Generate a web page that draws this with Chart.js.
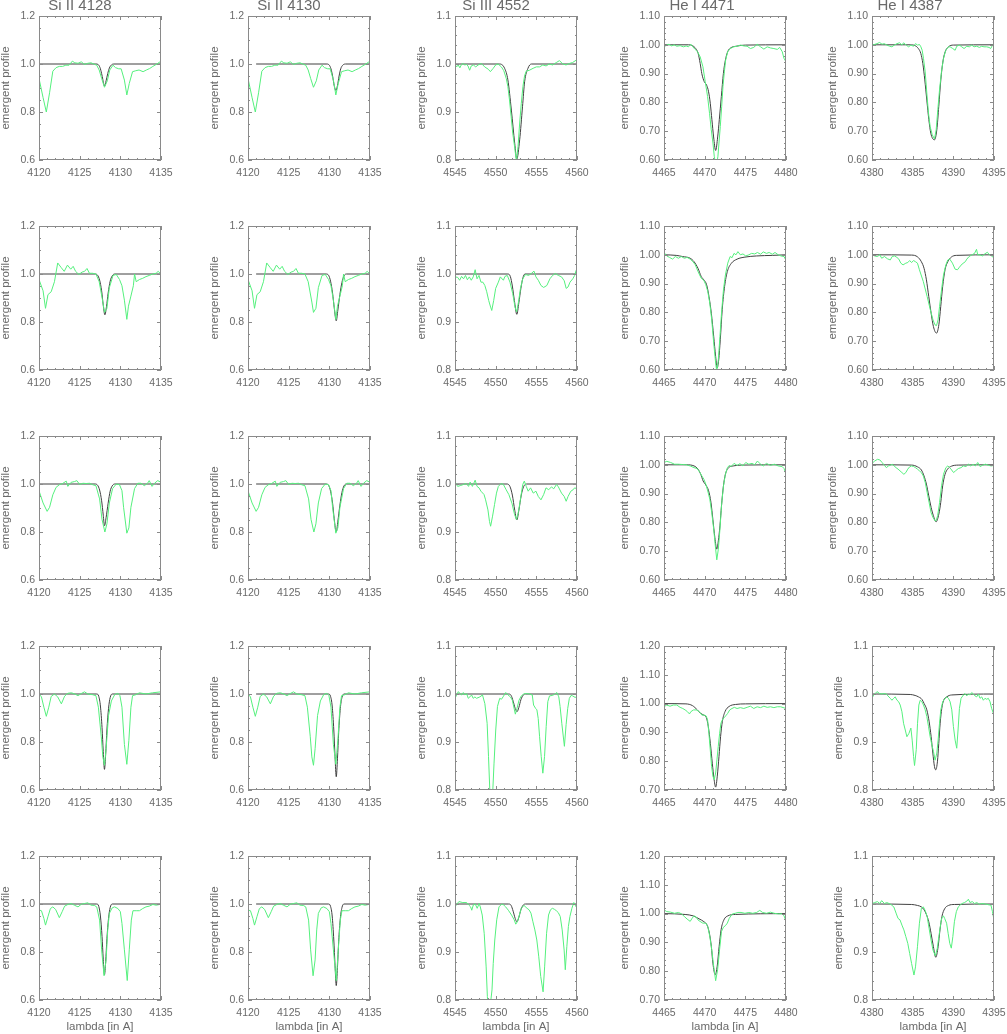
<!DOCTYPE html>
<html>
<head>
<meta charset="utf-8">
<script src="https://cdn.jsdelivr.net/npm/chart.js@4.4.1/dist/chart.umd.min.js"></script>
<style>
  body { margin: 0; background: #fff; }
  #grid { position: relative; width: 1007px; height: 1034px; overflow: hidden; }
  #grid canvas { position: absolute; }
</style>
</head>
<body>
<div id="grid"></div>
<script>
// line titles (top row) and wavelength windows
const lineTitles = ['Si II 4128', 'Si II 4130', 'Si III 4552', 'He I 4471', 'He I 4387'];
const xTicksSi2 = [4120, 4125, 4130, 4135];
const xTicksSi3 = [4545, 4550, 4555, 4560];
const xTicksHe71 = [4465, 4470, 4475, 4480];
const xTicksHe87 = [4380, 4385, 4390, 4395];
const yTicksSi2 = [0.6, 0.8, 1.0, 1.2];
const yTicksShort = [0.8, 0.9, 1.0, 1.1];
const yTicksHeLow = [0.60, 0.70, 0.80, 0.90, 1.00, 1.10];
const yTicksHeHigh = [0.70, 0.80, 0.90, 1.00, 1.10, 1.20];

// observed spectra, Si II window (same for the 4128 and 4130 columns), rows 1..5
const siObs1 = [[4120.0,0.94],[4120.5,0.86],[4120.9,0.80],[4121.3,0.88],[4121.7,0.97],[4122.1,0.985],[4122.5,0.99],[4122.9,0.99],[4123.3,0.995],[4123.7,0.995],[4124.1,1.012],[4124.4,1.005],[4124.8,1.003],[4125.2,1.009],[4125.6,0.998],[4126.0,1.003],[4126.4,1.005],[4126.8,0.999],[4127.1,0.995],[4127.4,0.975],[4127.7,0.94],[4128.05,0.903],[4128.4,0.93],[4128.7,0.975],[4129.1,0.995],[4129.4,0.985],[4129.8,0.98],[4130.1,0.98],[4130.5,0.933],[4130.8,0.871],[4131.1,0.919],[4131.5,0.968],[4131.9,0.972],[4132.3,0.975],[4132.8,0.968],[4133.2,0.975],[4133.6,0.981],[4134.0,0.99],[4134.4,0.998],[4135.0,1.012]];
const siObs2 = [[4120.0,0.977],[4120.5,0.93],[4120.8,0.857],[4121.1,0.914],[4121.5,0.926],[4121.9,0.968],[4122.3,1.046],[4122.7,1.028],[4123.1,1.011],[4123.5,1.037],[4123.9,1.02],[4124.2,1.032],[4124.5,1.011],[4124.9,0.998],[4125.3,1.008],[4125.6,1.011],[4125.9,1.023],[4126.2,1.003],[4126.6,1.003],[4127.0,1.0],[4127.4,0.968],[4127.85,0.883],[4128.05,0.84],[4128.35,0.857],[4128.65,0.943],[4129.1,0.994],[4129.5,0.998],[4129.9,0.977],[4130.2,0.951],[4130.5,0.891],[4130.8,0.811],[4131.0,0.866],[4131.3,0.908],[4131.6,0.951],[4131.75,1.0],[4131.95,0.968],[4132.35,0.977],[4132.75,0.982],[4133.15,0.989],[4133.55,0.994],[4134.0,1.0],[4134.4,1.003],[4134.65,1.011],[4135.0,1.0]];
const siObs3 = [[4120.0,0.972],[4120.5,0.921],[4121.0,0.886],[4121.3,0.903],[4121.7,0.955],[4122.1,0.986],[4122.5,0.997],[4122.9,1.002],[4123.35,1.012],[4123.55,0.99],[4123.95,1.007],[4124.35,1.01],[4124.65,1.014],[4125.0,0.998],[4125.4,1.003],[4125.8,1.002],[4126.2,1.003],[4126.6,0.997],[4127.0,0.993],[4127.45,0.938],[4127.75,0.852],[4128.1,0.80],[4128.35,0.834],[4128.65,0.921],[4129.05,0.981],[4129.5,1.0],[4129.9,0.997],[4130.2,0.972],[4130.4,0.903],[4130.8,0.795],[4131.05,0.817],[4131.3,0.903],[4131.75,0.981],[4132.15,1.003],[4132.55,1.003],[4132.95,0.993],[4133.35,1.003],[4133.55,1.014],[4133.9,0.99],[4134.2,1.003],[4134.6,1.014],[4135.0,1.007]];
const siObs4 = [[4120.0,1.0],[4120.3,0.988],[4120.6,0.945],[4120.9,0.907],[4121.2,0.945],[4121.5,0.99],[4121.9,1.0],[4122.3,0.988],[4122.75,0.959],[4123.15,0.991],[4123.55,1.003],[4124.0,1.005],[4124.4,1.0],[4124.8,0.993],[4125.2,1.002],[4125.6,1.009],[4126.0,1.0],[4126.6,0.997],[4127.0,0.993],[4127.3,0.945],[4127.65,0.824],[4127.85,0.738],[4128.05,0.703],[4128.25,0.772],[4128.55,0.91],[4128.9,0.971],[4129.3,0.997],[4129.7,1.003],[4129.95,0.993],[4130.2,0.945],[4130.5,0.79],[4130.8,0.707],[4131.05,0.807],[4131.3,0.945],[4131.5,0.993],[4131.9,0.997],[4132.35,1.005],[4133.15,1.0],[4133.95,1.005],[4135.0,1.009]];
const siObs5 = [[4120.0,0.975],[4120.3,0.972],[4120.6,0.94],[4120.8,0.912],[4121.1,0.947],[4121.4,0.981],[4121.7,0.988],[4122.05,0.977],[4122.5,0.943],[4122.85,0.968],[4123.15,0.991],[4123.55,0.998],[4123.95,1.002],[4124.35,0.995],[4124.8,0.988],[4125.2,0.999],[4125.6,1.002],[4126.0,1.005],[4126.4,0.995],[4126.8,0.994],[4127.1,0.988],[4127.45,0.933],[4127.7,0.809],[4128.0,0.701],[4128.25,0.767],[4128.45,0.892],[4128.65,0.961],[4129.0,0.984],[4129.3,0.988],[4129.7,0.981],[4130.0,0.968],[4130.2,0.919],[4130.5,0.809],[4130.85,0.681],[4131.1,0.809],[4131.35,0.933],[4131.55,0.972],[4131.95,0.972],[4132.35,0.972],[4132.75,0.981],[4133.15,0.988],[4133.55,0.991],[4134.0,0.998],[4134.4,0.995],[4135.0,0.999]];

// model profiles, Si II 4128
const si4128Mod1 = [[4120,1],[4127.0,1],[4127.3,0.997],[4127.5,0.985],[4127.7,0.96],[4127.85,0.935],[4128.05,0.908],[4128.25,0.93],[4128.45,0.96],[4128.65,0.983],[4128.9,0.996],[4129.2,1],[4135,1]];
const si4128Mod2 = [[4120,1],[4126.9,1],[4127.2,0.995],[4127.45,0.975],[4127.7,0.93],[4127.9,0.87],[4128.1,0.83],[4128.3,0.865],[4128.5,0.92],[4128.75,0.97],[4129.0,0.992],[4129.3,1],[4135,1]];
const si4128Mod3 = [[4120,1],[4126.9,1],[4127.2,0.995],[4127.45,0.975],[4127.7,0.93],[4127.9,0.87],[4128.05,0.826],[4128.25,0.86],[4128.5,0.92],[4128.75,0.97],[4129.0,0.992],[4129.3,1],[4135,1]];
const si4128Mod4 = [[4120,1],[4127.1,1],[4127.35,0.99],[4127.55,0.95],[4127.75,0.86],[4127.9,0.76],[4128.05,0.686],[4128.2,0.75],[4128.35,0.85],[4128.55,0.94],[4128.75,0.985],[4129.0,1],[4135,1]];
const si4128Mod5 = [[4120,1],[4127.1,1],[4127.35,0.99],[4127.55,0.95],[4127.75,0.865],[4127.9,0.77],[4128.05,0.705],[4128.2,0.76],[4128.35,0.855],[4128.55,0.94],[4128.75,0.985],[4129.0,1],[4135,1]];

// model profiles, Si II 4130
const si4130Mod1 = [[4121.0,1],[4129.7,1],[4130.0,0.995],[4130.2,0.98],[4130.4,0.95],[4130.6,0.91],[4130.8,0.89],[4131.0,0.91],[4131.2,0.95],[4131.4,0.98],[4131.65,0.995],[4132.0,1],[4135,1]];
const si4130Mod2 = [[4121.0,1],[4129.6,1],[4129.9,0.995],[4130.15,0.97],[4130.4,0.92],[4130.6,0.86],[4130.85,0.805],[4131.05,0.85],[4131.3,0.915],[4131.55,0.965],[4131.8,0.992],[4132.1,1],[4135,1]];
const si4130Mod3 = [[4121.0,1],[4129.6,1],[4129.9,0.995],[4130.15,0.97],[4130.4,0.92],[4130.6,0.855],[4130.85,0.80],[4131.05,0.845],[4131.3,0.912],[4131.55,0.965],[4131.8,0.992],[4132.1,1],[4135,1]];
const si4130Mod4 = [[4121.0,1],[4129.9,1],[4130.15,0.99],[4130.35,0.95],[4130.55,0.85],[4130.7,0.74],[4130.85,0.655],[4131.0,0.73],[4131.15,0.84],[4131.35,0.94],[4131.55,0.985],[4131.8,1],[4135,1]];
const si4130Mod5 = [[4121.0,1],[4129.9,1],[4130.15,0.99],[4130.35,0.95],[4130.55,0.85],[4130.7,0.745],[4130.85,0.66],[4131.0,0.735],[4131.15,0.845],[4131.35,0.94],[4131.55,0.985],[4131.8,1],[4135,1]];

// observed spectra, Si III window
const si3Obs1 = [[4545.0,0.999],[4545.2,0.994],[4545.4,0.998],[4545.6,0.992],[4545.8,0.999],[4546.0,1.001],[4546.2,0.998],[4546.4,0.999],[4546.6,0.996],[4546.8,0.987],[4547.0,0.996],[4547.25,0.998],[4547.55,0.994],[4547.85,0.998],[4548.25,1.001],[4548.65,0.994],[4549.1,0.989],[4549.35,0.984],[4549.7,0.991],[4550.0,0.998],[4550.3,1.0],[4550.7,0.994],[4551.0,0.986],[4551.3,0.97],[4551.5,0.953],[4551.7,0.925],[4551.9,0.891],[4552.1,0.856],[4552.35,0.825],[4552.55,0.797],[4552.75,0.828],[4552.95,0.877],[4553.15,0.918],[4553.35,0.953],[4553.55,0.975],[4553.75,0.985],[4554.15,0.987],[4554.6,0.991],[4555.0,0.994],[4555.4,0.994],[4555.8,0.998],[4556.2,0.996],[4556.6,1.0],[4557.0,0.998],[4557.45,1.003],[4557.85,1.007],[4558.25,1.0],[4558.65,0.998],[4559.05,1.001],[4559.45,1.003],[4559.9,1.008],[4560.0,1.006]];
const si3Obs2 = [[4545.0,0.994],[4545.33,0.993],[4545.57,0.987],[4545.81,0.995],[4546.05,0.99],[4546.29,0.997],[4546.52,0.988],[4546.76,0.994],[4547.0,0.987],[4547.24,0.994],[4547.48,1.009],[4547.71,0.99],[4547.95,0.997],[4548.19,0.983],[4548.43,0.983],[4548.67,0.976],[4548.9,0.963],[4549.14,0.945],[4549.38,0.931],[4549.52,0.924],[4549.76,0.945],[4550.0,0.97],[4550.33,0.983],[4550.57,0.994],[4550.95,0.987],[4551.14,0.995],[4551.43,0.997],[4551.76,0.983],[4552.1,0.959],[4552.38,0.931],[4552.57,0.921],[4552.81,0.942],[4553.05,0.97],[4553.33,0.99],[4553.67,0.999],[4554.05,0.997],[4554.38,1.001],[4554.71,1.006],[4554.95,0.994],[4555.24,0.987],[4555.57,0.976],[4555.9,0.972],[4556.29,0.976],[4556.67,0.99],[4557.0,0.997],[4557.33,1.001],[4557.71,0.997],[4558.1,0.994],[4558.43,0.986],[4558.67,0.97],[4558.9,0.973],[4559.14,0.983],[4559.48,0.99],[4559.71,0.997],[4559.9,1.008],[4560.0,1.009]];
const si3Obs3 = [[4545.0,1.004],[4545.33,0.995],[4545.71,0.997],[4546.05,0.999],[4546.38,1.001],[4546.67,0.995],[4546.86,1.004],[4547.14,0.995],[4547.48,1.008],[4547.71,0.995],[4547.95,0.992],[4548.19,0.985],[4548.57,0.978],[4548.76,0.967],[4549.05,0.946],[4549.24,0.922],[4549.38,0.912],[4549.62,0.933],[4549.86,0.957],[4550.1,0.981],[4550.33,0.995],[4550.67,1.001],[4550.95,0.999],[4551.29,0.988],[4551.62,0.978],[4552.0,0.96],[4552.33,0.936],[4552.57,0.926],[4552.81,0.943],[4553.1,0.974],[4553.33,0.999],[4553.52,1.006],[4553.76,0.995],[4554.0,0.985],[4554.29,0.992],[4554.62,0.981],[4554.95,0.985],[4555.24,0.974],[4555.57,0.967],[4555.9,0.978],[4556.19,0.992],[4556.52,0.988],[4556.86,0.994],[4557.14,0.99],[4557.48,0.999],[4557.71,0.994],[4558.1,0.981],[4558.43,0.974],[4558.67,0.964],[4558.9,0.974],[4559.24,0.985],[4559.52,0.988],[4559.71,0.992],[4560.0,0.99]];
const si3Obs4 = [[4545.0,0.991],[4545.2,0.998],[4545.41,1.005],[4545.61,1.001],[4545.82,0.998],[4546.02,1.003],[4546.22,0.998],[4546.43,1.001],[4546.63,0.991],[4546.83,0.994],[4547.04,0.998],[4547.24,0.991],[4547.45,0.994],[4547.65,0.991],[4548.06,0.994],[4548.38,0.998],[4548.67,0.98],[4548.95,0.939],[4549.12,0.87],[4549.28,0.80],[4549.45,0.74],[4549.65,0.80],[4549.8,0.856],[4550.01,0.925],[4550.22,0.974],[4550.5,0.991],[4550.71,0.989],[4550.91,0.994],[4551.24,1.003],[4551.52,0.998],[4551.81,0.994],[4552.05,0.987],[4552.42,0.958],[4552.62,0.97],[4552.87,0.987],[4553.15,0.996],[4553.44,1.0],[4553.76,1.001],[4554.17,1.0],[4554.5,0.998],[4554.66,0.977],[4554.91,0.97],[4555.07,0.967],[4555.23,0.949],[4555.4,0.911],[4555.6,0.87],[4555.8,0.835],[4556.01,0.87],[4556.21,0.932],[4556.41,0.984],[4556.62,0.996],[4556.94,0.997],[4557.23,0.999],[4557.52,1.003],[4557.76,0.994],[4557.92,0.974],[4558.13,0.939],[4558.45,0.891],[4558.66,0.936],[4558.86,0.97],[4559.06,0.991],[4559.27,0.997],[4559.47,0.996],[4559.76,0.993],[4560.0,0.994]];
const si3Obs5 = [[4545.0,0.994],[4545.24,1.0],[4545.48,1.005],[4545.96,1.003],[4546.44,1.003],[4546.68,0.998],[4546.92,0.994],[4547.06,0.987],[4547.25,0.998],[4547.49,1.0],[4547.73,0.991],[4547.97,1.001],[4548.11,0.994],[4548.35,0.977],[4548.59,0.939],[4548.83,0.869],[4548.98,0.807],[4549.2,0.74],[4549.41,0.80],[4549.55,0.821],[4549.7,0.876],[4549.89,0.925],[4550.13,0.967],[4550.41,0.994],[4550.75,1.0],[4550.99,0.998],[4551.23,0.994],[4551.56,0.987],[4551.95,0.977],[4552.28,0.967],[4552.47,0.958],[4552.67,0.963],[4552.91,0.977],[4553.15,0.991],[4553.48,0.997],[4553.86,0.991],[4554.1,0.988],[4554.34,0.981],[4554.58,0.963],[4554.82,0.946],[4555.06,0.925],[4555.3,0.89],[4555.54,0.849],[4555.83,0.817],[4556.02,0.869],[4556.26,0.939],[4556.5,0.977],[4556.74,0.988],[4556.98,0.991],[4557.22,0.989],[4557.46,0.986],[4557.7,0.982],[4557.94,0.974],[4558.18,0.946],[4558.42,0.904],[4558.56,0.863],[4558.75,0.911],[4558.94,0.953],[4559.13,0.974],[4559.37,0.991],[4559.61,1.003],[4559.76,0.998],[4560.0,0.991]];

// model profiles, Si III 4552
const si3Mod1 = [[4545,1],[4550.5,1],[4551.1,0.991],[4551.5,0.967],[4551.93,0.904],[4552.34,0.835],[4552.6,0.802],[4552.95,0.842],[4553.3,0.911],[4553.56,0.963],[4553.97,0.991],[4554.4,1],[4560,1]];
const si3Mod2 = [[4545,1],[4551.5,1],[4551.8,0.995],[4552.05,0.975],[4552.3,0.945],[4552.6,0.916],[4552.85,0.94],[4553.1,0.97],[4553.35,0.992],[4553.6,1],[4560,1]];
const si3Mod3 = [[4545,1],[4551.4,1],[4551.75,0.995],[4552.05,0.977],[4552.35,0.945],[4552.6,0.925],[4552.85,0.945],[4553.15,0.977],[4553.45,0.995],[4553.8,1],[4560,1]];
const si3Mod4 = [[4545,1],[4551.6,1],[4551.9,0.997],[4552.15,0.985],[4552.4,0.97],[4552.62,0.963],[4552.85,0.972],[4553.1,0.988],[4553.4,0.998],[4553.7,1],[4560,1]];
const si3Mod5 = [[4545,1],[4551.6,1],[4551.9,0.997],[4552.15,0.985],[4552.4,0.97],[4552.6,0.963],[4552.85,0.972],[4553.1,0.988],[4553.4,0.998],[4553.7,1],[4560,1]];

// observed spectra, He I 4471 window
const he71Obs1 = [[4465.0,0.993],[4465.33,0.999],[4465.62,1.002],[4465.95,0.996],[4466.24,1.0],[4466.57,0.995],[4466.98,0.997],[4467.39,0.993],[4467.72,0.996],[4468.01,0.993],[4468.3,1.002],[4468.54,0.993],[4468.83,0.984],[4469.12,0.976],[4469.45,0.958],[4469.78,0.924],[4470.07,0.872],[4470.36,0.82],[4470.6,0.762],[4470.81,0.705],[4471.02,0.659],[4471.18,0.613],[4471.4,0.57],[4471.63,0.613],[4471.76,0.659],[4471.92,0.716],[4472.09,0.785],[4472.25,0.855],[4472.42,0.906],[4472.58,0.947],[4472.83,0.976],[4473.16,0.987],[4473.57,0.993],[4473.98,0.995],[4474.39,0.999],[4474.81,0.996],[4475.22,0.995],[4475.63,0.987],[4476.04,0.991],[4476.45,1.002],[4476.87,0.993],[4477.28,0.985],[4477.69,0.993],[4478.1,0.989],[4478.51,0.987],[4478.93,0.984],[4479.22,0.991],[4479.54,0.976],[4479.75,0.953],[4480.0,0.941]];
const he71Obs2 = [[4465.0,1.008],[4465.34,0.996],[4465.67,0.991],[4466.06,0.985],[4466.39,0.994],[4466.78,0.988],[4467.12,0.994],[4467.5,0.988],[4467.84,0.991],[4468.22,0.985],[4468.56,0.976],[4468.85,0.965],[4469.18,0.942],[4469.57,0.919],[4469.9,0.911],[4470.14,0.896],[4470.38,0.873],[4470.63,0.832],[4470.87,0.774],[4471.11,0.694],[4471.35,0.624],[4471.49,0.595],[4471.68,0.636],[4471.88,0.717],[4472.07,0.797],[4472.31,0.878],[4472.55,0.93],[4472.84,0.971],[4473.13,0.994],[4473.37,0.99],[4473.61,1.005],[4473.85,1.0],[4474.09,1.011],[4474.38,1.0],[4474.71,1.003],[4475.05,0.996],[4475.43,1.0],[4475.77,1.005],[4476.15,1.003],[4476.49,1.008],[4476.88,1.002],[4477.21,1.01],[4477.6,1.005],[4477.93,1.008],[4478.32,1.002],[4478.65,1.008],[4479.04,1.0],[4479.38,0.996],[4479.76,0.994],[4480.0,0.98]];
const he71Obs3 = [[4465.0,1.008],[4465.34,1.012],[4465.82,1.008],[4466.3,1.002],[4466.78,1.002],[4467.26,1.001],[4467.74,1.0],[4468.22,0.996],[4468.7,0.99],[4469.09,0.987],[4469.42,0.973],[4469.66,0.961],[4469.9,0.95],[4470.14,0.933],[4470.38,0.909],[4470.63,0.881],[4470.87,0.834],[4471.11,0.777],[4471.35,0.707],[4471.49,0.67],[4471.68,0.707],[4471.88,0.777],[4472.07,0.858],[4472.31,0.927],[4472.55,0.967],[4472.79,0.99],[4473.03,0.998],[4473.27,0.994],[4473.61,1.005],[4473.99,0.998],[4474.33,1.004],[4474.71,0.996],[4475.05,1.008],[4475.43,1.002],[4475.82,1.005],[4476.15,1.0],[4476.49,1.013],[4476.88,1.002],[4477.21,0.996],[4477.6,1.005],[4478.08,0.998],[4478.56,1.002],[4479.04,0.996],[4479.52,0.994],[4479.76,0.987],[4480.0,0.967]];
const he71Obs4 = [[4465.0,0.989],[4465.33,0.995],[4465.74,0.991],[4466.15,0.995],[4466.57,0.995],[4466.98,0.987],[4467.31,0.983],[4467.6,0.978],[4467.88,0.972],[4468.13,0.964],[4468.3,0.972],[4468.63,0.978],[4468.96,0.978],[4469.24,0.974],[4469.45,0.968],[4469.66,0.96],[4469.94,0.96],[4470.19,0.957],[4470.36,0.943],[4470.52,0.897],[4470.69,0.839],[4470.85,0.782],[4471.02,0.747],[4471.18,0.736],[4471.35,0.759],[4471.51,0.805],[4471.67,0.851],[4471.84,0.897],[4472.0,0.932],[4472.17,0.943],[4472.42,0.952],[4472.66,0.96],[4472.83,0.966],[4473.08,0.978],[4473.36,0.983],[4473.65,0.987],[4473.98,0.983],[4474.39,0.986],[4474.81,0.983],[4475.22,0.987],[4475.63,0.991],[4476.04,0.983],[4476.45,0.989],[4476.87,0.986],[4477.28,0.991],[4477.69,0.987],[4478.1,0.989],[4478.51,0.986],[4478.93,0.989],[4479.34,0.989],[4480.0,0.983]];
const he71Obs5 = [[4465.0,1.013],[4465.34,1.007],[4465.82,1.005],[4466.3,1.001],[4466.78,1.004],[4467.16,0.999],[4467.5,0.99],[4467.84,0.981],[4468.22,0.973],[4468.46,0.984],[4468.7,0.992],[4468.94,0.988],[4469.18,0.978],[4469.42,0.973],[4469.76,0.967],[4470.14,0.967],[4470.38,0.955],[4470.63,0.921],[4470.87,0.874],[4471.11,0.817],[4471.35,0.767],[4471.59,0.805],[4471.83,0.874],[4472.07,0.938],[4472.31,0.953],[4472.55,0.958],[4472.79,0.967],[4473.03,0.984],[4473.41,0.999],[4473.75,1.001],[4474.09,1.004],[4474.47,1.004],[4474.95,1.001],[4475.43,1.004],[4475.91,1.001],[4476.39,1.004],[4476.78,1.011],[4477.12,1.004],[4477.6,1.001],[4478.08,1.005],[4478.56,1.001],[4479.04,0.999],[4479.52,0.999],[4479.76,0.992],[4480.0,0.973]];

// model profiles, He I 4471
const he71Mod1 = [[4465,1],[4468.0,1],[4468.5,0.997],[4468.9,0.987],[4469.2,0.97],[4469.45,0.935],[4469.65,0.9],[4469.95,0.872],[4470.24,0.86],[4470.48,0.837],[4470.69,0.797],[4470.89,0.74],[4471.1,0.68],[4471.35,0.633],[4471.6,0.68],[4471.8,0.74],[4472.05,0.82],[4472.3,0.9],[4472.55,0.947],[4472.83,0.976],[4473.24,0.99],[4473.86,0.995],[4475.0,0.999],[4480,1]];
const he71Mod2 = [[4465,1],[4466.5,0.998],[4467.26,0.994],[4468.22,0.988],[4468.7,0.976],[4469.18,0.953],[4469.57,0.925],[4469.9,0.913],[4470.24,0.896],[4470.53,0.855],[4470.82,0.797],[4471.11,0.717],[4471.35,0.647],[4471.54,0.607],[4471.73,0.636],[4471.92,0.705],[4472.16,0.81],[4472.45,0.89],[4472.79,0.942],[4473.27,0.97],[4473.99,0.985],[4474.95,0.992],[4476.39,0.996],[4478.32,0.998],[4480,1]];
const he71Mod3 = [[4465,1],[4467.74,1],[4468.7,0.996],[4469.18,0.985],[4469.52,0.967],[4469.81,0.944],[4470.14,0.93],[4470.48,0.91],[4470.77,0.87],[4471.01,0.81],[4471.25,0.748],[4471.49,0.707],[4471.68,0.736],[4471.88,0.788],[4472.07,0.858],[4472.31,0.927],[4472.55,0.967],[4472.94,0.99],[4473.51,0.996],[4474.5,0.999],[4480,1]];
const he71Mod4 = [[4465,1],[4467.7,0.999],[4468.5,0.993],[4469.1,0.978],[4469.5,0.966],[4469.9,0.96],[4470.2,0.952],[4470.45,0.92],[4470.7,0.862],[4470.94,0.793],[4471.14,0.741],[4471.35,0.71],[4471.55,0.748],[4471.76,0.816],[4471.96,0.886],[4472.17,0.937],[4472.5,0.972],[4473.0,0.99],[4473.8,0.997],[4475.0,0.999],[4480,1]];
const he71Mod5 = [[4465,1],[4467.6,0.997],[4468.6,0.992],[4469.3,0.982],[4469.9,0.972],[4470.3,0.96],[4470.58,0.932],[4470.82,0.886],[4471.01,0.828],[4471.3,0.788],[4471.54,0.817],[4471.78,0.886],[4472.02,0.944],[4472.36,0.978],[4472.84,0.992],[4473.8,0.997],[4480,1]];

// observed spectra, He I 4387 window
const he87Obs1 = [[4380.0,0.999],[4380.29,1.001],[4380.61,1.004],[4380.94,1.008],[4381.23,1.002],[4381.51,1.004],[4381.84,0.999],[4382.17,0.995],[4382.45,0.993],[4382.74,0.999],[4383.07,1.004],[4383.39,1.007],[4383.68,0.999],[4383.88,1.007],[4384.21,0.999],[4384.5,0.993],[4384.78,0.999],[4385.11,0.995],[4385.35,1.004],[4385.6,0.999],[4385.84,1.001],[4386.01,0.993],[4386.17,0.981],[4386.33,0.953],[4386.54,0.906],[4386.74,0.832],[4386.95,0.762],[4387.15,0.716],[4387.4,0.688],[4387.68,0.673],[4387.89,0.705],[4388.09,0.774],[4388.3,0.843],[4388.54,0.906],[4388.79,0.953],[4389.07,0.981],[4389.4,0.993],[4389.6,0.993],[4389.93,0.987],[4390.22,0.981],[4390.42,0.995],[4390.75,0.999],[4391.03,0.993],[4391.32,0.987],[4391.65,0.995],[4391.97,0.993],[4392.26,0.999],[4392.55,0.993],[4392.87,0.995],[4393.2,0.991],[4393.49,0.995],[4393.77,0.993],[4394.1,0.993],[4394.39,0.991],[4394.59,0.987],[4394.83,0.999],[4395.0,0.999]];
const he87Obs2 = [[4380.0,1.0],[4380.33,0.996],[4380.67,0.994],[4380.96,1.0],[4381.19,0.988],[4381.53,0.994],[4381.91,0.986],[4382.25,0.982],[4382.48,0.994],[4382.77,0.996],[4383.06,0.991],[4383.3,0.985],[4383.54,0.971],[4383.82,0.965],[4384.16,0.971],[4384.4,0.973],[4384.63,0.98],[4384.87,0.973],[4385.11,0.98],[4385.35,0.976],[4385.59,0.971],[4385.83,0.948],[4386.31,0.907],[4386.78,0.855],[4387.17,0.809],[4387.5,0.774],[4387.74,0.757],[4387.93,0.754],[4388.12,0.774],[4388.31,0.821],[4388.55,0.878],[4388.79,0.93],[4389.08,0.965],[4389.32,0.982],[4389.56,0.985],[4389.89,0.971],[4390.22,0.95],[4390.51,0.948],[4390.75,0.957],[4391.08,0.968],[4391.47,0.976],[4391.66,0.985],[4391.94,0.994],[4392.28,1.0],[4392.61,1.005],[4392.85,1.019],[4393.0,1.0],[4393.28,1.0],[4393.57,0.996],[4393.86,1.003],[4394.19,1.009],[4394.43,1.0],[4394.72,0.996],[4395.0,0.988]];
const he87Obs3 = [[4380.0,1.005],[4380.33,1.013],[4380.67,1.019],[4380.96,1.017],[4381.24,1.008],[4381.53,0.998],[4381.77,0.99],[4382.01,0.996],[4382.25,0.998],[4382.48,1.002],[4382.72,0.996],[4382.96,0.99],[4383.2,0.985],[4383.44,0.979],[4383.68,0.973],[4383.92,0.967],[4384.16,0.973],[4384.4,0.985],[4384.63,0.993],[4384.87,0.996],[4385.11,0.994],[4385.35,0.99],[4385.59,0.985],[4385.83,0.979],[4386.07,0.973],[4386.31,0.961],[4386.55,0.938],[4386.78,0.904],[4387.02,0.869],[4387.26,0.834],[4387.5,0.817],[4387.74,0.806],[4387.88,0.806],[4388.07,0.823],[4388.31,0.869],[4388.55,0.927],[4388.79,0.967],[4389.08,0.99],[4389.32,0.996],[4389.56,0.99],[4389.79,0.982],[4390.03,0.973],[4390.27,0.979],[4390.61,0.987],[4390.94,0.99],[4391.23,0.996],[4391.56,0.994],[4391.85,1.002],[4392.14,0.996],[4392.42,1.002],[4392.71,0.996],[4393.0,1.008],[4393.28,0.994],[4393.57,0.998],[4393.95,1.002],[4394.33,0.998],[4394.67,0.996],[4395.0,0.998]];
const he87Obs4 = [[4380.0,0.991],[4380.2,0.998],[4380.41,1.001],[4380.61,1.005],[4380.94,1.001],[4381.23,1.0],[4381.51,1.001],[4381.76,1.0],[4381.96,0.996],[4382.25,0.991],[4382.45,0.987],[4382.66,0.991],[4382.86,0.994],[4383.07,0.987],[4383.27,0.984],[4383.47,0.977],[4383.68,0.963],[4383.88,0.939],[4384.09,0.925],[4384.29,0.911],[4384.54,0.918],[4384.78,0.929],[4384.94,0.904],[4385.11,0.87],[4385.23,0.851],[4385.44,0.884],[4385.6,0.939],[4385.76,0.977],[4385.93,0.987],[4386.13,0.984],[4386.33,0.977],[4386.54,0.967],[4386.74,0.953],[4386.95,0.932],[4387.15,0.911],[4387.36,0.894],[4387.56,0.88],[4387.76,0.862],[4387.97,0.877],[4388.13,0.904],[4388.3,0.939],[4388.46,0.967],[4388.7,0.984],[4388.99,0.991],[4389.19,0.994],[4389.4,0.991],[4389.6,0.984],[4389.81,0.967],[4390.01,0.932],[4390.22,0.904],[4390.42,0.887],[4390.58,0.925],[4390.75,0.97],[4390.95,0.991],[4391.24,0.998],[4391.44,1.001],[4391.65,0.996],[4391.85,1.0],[4392.06,0.998],[4392.26,1.003],[4392.46,1.0],[4392.67,0.996],[4392.87,0.994],[4393.08,1.0],[4393.28,0.991],[4393.49,0.994],[4393.69,0.987],[4393.89,0.991],[4394.1,0.989],[4394.3,0.991],[4394.51,0.984],[4394.71,0.97],[4395.0,0.956]];
const he87Obs5 = [[4380.0,1.001],[4380.33,1.003],[4380.67,1.005],[4380.96,1.001],[4381.19,1.007],[4381.53,1.001],[4381.82,1.003],[4382.1,1.001],[4382.39,0.998],[4382.68,0.994],[4382.96,0.981],[4383.2,0.97],[4383.44,0.967],[4383.68,0.956],[4383.92,0.946],[4384.16,0.932],[4384.4,0.918],[4384.63,0.897],[4384.87,0.876],[4385.16,0.852],[4385.35,0.869],[4385.59,0.911],[4385.83,0.96],[4386.07,0.991],[4386.31,0.994],[4386.55,0.986],[4386.78,0.974],[4387.02,0.949],[4387.26,0.925],[4387.5,0.904],[4387.79,0.892],[4388.03,0.908],[4388.22,0.932],[4388.46,0.96],[4388.6,0.972],[4388.79,0.975],[4388.93,0.97],[4389.17,0.96],[4389.36,0.939],[4389.56,0.918],[4389.75,0.908],[4389.94,0.932],[4390.13,0.963],[4390.37,0.984],[4390.61,0.994],[4390.85,0.998],[4391.08,1.001],[4391.37,1.003],[4391.66,1.006],[4391.85,1.01],[4392.04,1.003],[4392.33,1.005],[4392.61,1.001],[4392.9,1.003],[4393.19,0.999],[4393.47,1.001],[4393.95,1.0],[4394.43,0.998],[4394.62,0.998],[4394.81,0.984],[4395.0,0.967]];

// model profiles, He I 4387
const he87Mod1 = [[4380,1],[4384.7,1],[4385.3,0.997],[4385.7,0.987],[4386.0,0.97],[4386.25,0.935],[4386.49,0.878],[4386.74,0.808],[4386.99,0.74],[4387.23,0.693],[4387.68,0.67],[4387.97,0.705],[4388.21,0.786],[4388.46,0.878],[4388.71,0.94],[4388.99,0.975],[4389.4,0.993],[4390.0,0.999],[4395,1]];
const he87Mod2 = [[4380,1],[4384.87,0.999],[4385.59,0.993],[4386.07,0.976],[4386.4,0.953],[4386.69,0.913],[4386.98,0.855],[4387.27,0.797],[4387.55,0.751],[4387.93,0.728],[4388.22,0.757],[4388.45,0.82],[4388.69,0.89],[4388.98,0.948],[4389.32,0.976],[4389.75,0.992],[4390.37,0.998],[4395,1]];
const he87Mod3 = [[4380,1],[4384.87,0.999],[4385.59,0.993],[4386.07,0.982],[4386.4,0.961],[4386.69,0.933],[4386.98,0.892],[4387.27,0.852],[4387.55,0.823],[4387.88,0.802],[4388.22,0.829],[4388.45,0.869],[4388.69,0.927],[4388.98,0.967],[4389.32,0.986],[4389.75,0.995],[4390.6,0.999],[4395,1]];
const he87Mod4 = [[4380,1],[4384.7,0.999],[4385.3,0.997],[4385.72,0.994],[4386.13,0.989],[4386.41,0.98],[4386.74,0.967],[4387.03,0.942],[4387.27,0.911],[4387.48,0.877],[4387.68,0.849],[4387.84,0.842],[4388.05,0.86],[4388.21,0.897],[4388.38,0.939],[4388.58,0.97],[4388.79,0.986],[4389.19,0.994],[4389.8,0.998],[4395,1]];
const he87Mod5 = [[4380,1],[4384.87,0.999],[4385.59,0.997],[4386.07,0.994],[4386.4,0.988],[4386.69,0.978],[4386.98,0.963],[4387.26,0.939],[4387.55,0.911],[4387.84,0.889],[4388.13,0.911],[4388.36,0.946],[4388.6,0.974],[4388.93,0.99],[4389.41,0.997],[4390.13,0.999],[4395,1]];

// --- panel table built from the arrays above ---
const obsRows = [
    [siObs1, siObs1, si3Obs1, he71Obs1, he87Obs1],
    [siObs2, siObs2, si3Obs2, he71Obs2, he87Obs2],
    [siObs3, siObs3, si3Obs3, he71Obs3, he87Obs3],
    [siObs4, siObs4, si3Obs4, he71Obs4, he87Obs4],
    [siObs5, siObs5, si3Obs5, he71Obs5, he87Obs5]
];
const modRows = [
    [si4128Mod1, si4130Mod1, si3Mod1, he71Mod1, he87Mod1],
    [si4128Mod2, si4130Mod2, si3Mod2, he71Mod2, he87Mod2],
    [si4128Mod3, si4130Mod3, si3Mod3, he71Mod3, he87Mod3],
    [si4128Mod4, si4130Mod4, si3Mod4, he71Mod4, he87Mod4],
    [si4128Mod5, si4130Mod5, si3Mod5, he71Mod5, he87Mod5]
];
const xTickCols = [xTicksSi2, xTicksSi2, xTicksSi3, xTicksHe71, xTicksHe87];
function yTicksFor(r, c) {
    if (c < 2) return yTicksSi2;
    if (c === 2) return yTicksShort;
    if (c === 3) return r < 3 ? yTicksHeLow : yTicksHeHigh;
    return r < 3 ? yTicksHeLow : yTicksShort;
}
function yDecimalsFor(r, c) {
    if (c === 3) return 2;
    if (c === 4 && r < 3) return 2;
    return 1;
}

const plotLeft = [39, 248, 455, 664, 872];
const plotTop = [16, 226, 436, 646, 856];
const plotW = 122, plotH = 144;
const fontFamily = "'Liberation Sans', Arial, sans-serif";
const textColor = '#6a6a6a';
const frameColor = '#8a8a8a';
const obsColor = 'rgb(85, 240, 125)';
const modColor = '#404040';

// IDL-like box with inward major/minor ticks on all four sides
const idlFrame = {
    id: 'idlFrame',
    afterDraw(chart) {
        const { ctx, chartArea: a, scales } = chart;
        const xs = scales.x, ys = scales.y;
        ctx.save();
        ctx.strokeStyle = frameColor;
        ctx.lineWidth = 1;
        ctx.strokeRect(a.left + 0.5, a.top + 0.5, a.width - 1, a.height - 1);
        ctx.beginPath();
        const xt = xs.options.majorTicks;
        for (let v = xs.min; v <= xs.max + 1e-6; v += 1) {
            const px = Math.round(xs.getPixelForValue(v)) + 0.5;
            const major = xt.some(t => Math.abs(t - v) < 1e-6);
            const len = major ? 4 : 2;
            ctx.moveTo(px, a.bottom); ctx.lineTo(px, a.bottom - len);
            ctx.moveTo(px, a.top); ctx.lineTo(px, a.top + len);
        }
        const yt = ys.options.majorTicks;
        const yStep = (yt[1] - yt[0]) > 0.15 ? 0.05 : 0.02;
        for (let v = ys.min; v <= ys.max + 1e-6; v += yStep) {
            const py = Math.round(ys.getPixelForValue(v)) + 0.5;
            const major = yt.some(t => Math.abs(t - v) < 1e-6);
            const len = major ? 4 : 2;
            ctx.moveTo(a.left, py); ctx.lineTo(a.left + len, py);
            ctx.moveTo(a.right, py); ctx.lineTo(a.right - len, py);
        }
        ctx.stroke();
        ctx.restore();
    }
};

function makePanel(r, c) {
    const grid = document.getElementById('grid');
    const yt = yTicksFor(r, c);
    const xt = xTickCols[c];
    const dec = yDecimalsFor(r, c);
    const axisW = dec === 2 ? 46 : 40;
    const bottomH = r === 4 ? 34 : 50;
    const cv = document.createElement('canvas');
    cv.width = axisW * 2 + plotW;
    cv.height = 16 + plotH + bottomH;
    cv.style.left = (plotLeft[c] - axisW) + 'px';
    cv.style.top = (plotTop[r] - 16) + 'px';
    grid.appendChild(cv);

    new Chart(cv.getContext('2d'), {
        type: 'line',
        data: {
            datasets: [
                { data: obsRows[r][c], borderColor: obsColor, borderWidth: 1, pointRadius: 0, tension: 0 },
                { data: modRows[r][c], borderColor: modColor, borderWidth: 1, pointRadius: 0, cubicInterpolationMode: 'monotone' }
            ]
        },
        options: {
            responsive: false,
            animation: false,
            events: [],
            layout: { padding: { top: r === 0 ? 0 : 16, right: axisW, left: 0, bottom: 0 } },
            plugins: {
                legend: { display: false },
                tooltip: { enabled: false },
                title: {
                    display: r === 0,
                    text: lineTitles[c],
                    color: textColor,
                    font: { family: fontFamily, size: 15, weight: 'normal' },
                    padding: { top: -3.5, bottom: 1.5 }
                }
            },
            scales: {
                x: {
                    type: 'linear',
                    min: xt[0], max: xt[xt.length - 1],
                    majorTicks: xt,
                    grid: { display: false, drawTicks: false },
                    border: { display: false },
                    afterBuildTicks: s => { s.ticks = xt.map(v => ({ value: v })); },
                    afterFit: s => { s.height = bottomH; },
                    ticks: {
                        color: textColor, padding: 7, maxRotation: 0, autoSkip: false,
                        font: { family: fontFamily, size: 10.5 },
                        callback: v => String(v)
                    },
                    title: {
                        display: r === 4, text: 'lambda [in A]', color: textColor, padding: 0,
                        font: { family: fontFamily, size: 11.5 }
                    }
                },
                y: {
                    type: 'linear',
                    min: yt[0], max: yt[yt.length - 1],
                    majorTicks: yt,
                    grid: { display: false, drawTicks: false },
                    border: { display: false },
                    afterBuildTicks: s => { s.ticks = yt.map(v => ({ value: v })); },
                    afterFit: s => { s.width = axisW; },
                    ticks: {
                        color: textColor, padding: 4, autoSkip: false,
                        font: { family: fontFamily, size: 10.5 },
                        callback: v => Number(v).toFixed(dec)
                    },
                    title: {
                        display: true, text: 'emergent profile', color: textColor, padding: 0,
                        font: { family: fontFamily, size: 11.5 }
                    }
                }
            }
        },
        plugins: [idlFrame]
    });
}

for (let r = 0; r < 5; r++) {
    for (let c = 0; c < 5; c++) makePanel(r, c);
}
</script>
</body>
</html>
